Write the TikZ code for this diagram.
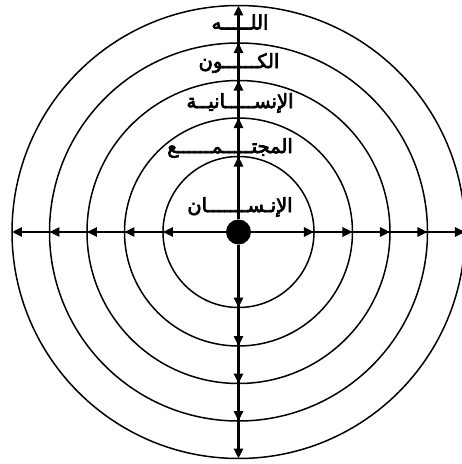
\documentclass[tikz,border=0pt]{standalone}
\usepackage{fontspec}
\usetikzlibrary{arrows.meta}
\newfontfamily\arabicfont[Script=Arabic,FakeBold=3.5]{DejaVu Sans}
\TeXXeTstate=1

\begin{document}
\begin{tikzpicture}[x=1pt,y=1pt,
    ring/.style={line width=1.5pt},
    axis/.style={line width=2.6pt, -{Triangle[length=10pt,width=9pt]}},
    word/.style={font=\arabicfont\fontsize{19.5}{21}\selectfont, inner sep=0pt}]
    \useasboundingbox (-238.5,-232) rectangle (223.5,232);

    % Center
    \node[circle, fill=black, minimum size=25pt, inner sep=0pt] (c) at (0,0) {};

    % Circles and their crossings
    \foreach \r [count=\i] in {75.5,114,151.5,189,226.5} {
        \draw[ring] (0,0) circle (\r);
        \coordinate (n\i) at (0,\r);
        \coordinate (s\i) at (0,-\r);
        \coordinate (e\i) at (\r,0);
        \coordinate (w\i) at (-\r,0);
    }

    % Arrows
    \foreach \i in {1,...,5} {
        \draw[axis] (c) -- (n\i);
        \draw[axis] (c) -- (s\i);
        \draw[axis] (c) -- (e\i);
        \draw[axis] (c) -- (w\i);
    }

    % Labels
    \node[word] (insan) at (1.5,25) {\beginR الإنـســـــــان\endR};
    \node[word] (mujtama) at (-8.5,84) {\beginR المجتـــــمــــــع\endR};
    \node[word] (insaniya) at (1.5,129) {\beginR الإنســـــانيــة\endR};
    \node[word] (kawn) at (0.5,169) {\beginR الكــــــون\endR};
    \node[word] (allah) at (1.5,210) {\beginR اللـــــه\endR};
\end{tikzpicture}
\end{document}
